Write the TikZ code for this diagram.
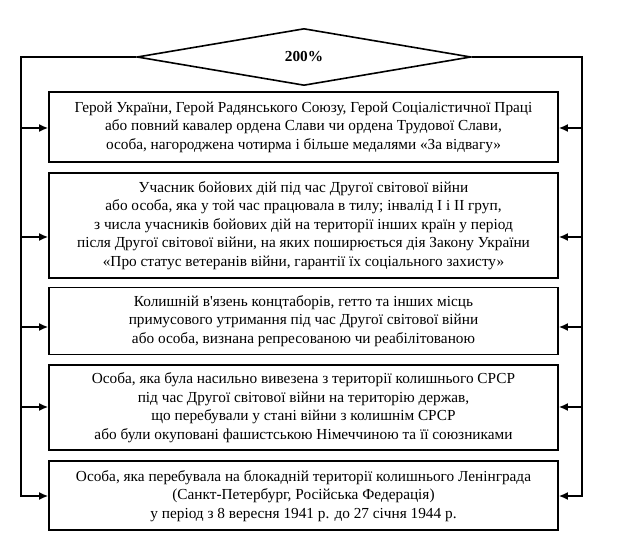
\documentclass[tikz,border=0pt]{standalone}
\usepackage{fontspec}
\setmainfont{Liberation Serif}
\usetikzlibrary{arrows.meta, positioning, shapes.geometric}

\tikzset{
    box/.style={draw, line width=1.8pt, minimum width=509pt, inner sep=0pt,
        align=center, font=\fontsize{15.3pt}{18.5pt}\selectfont},
    choice/.style={draw, diamond, line width=1.6pt, minimum width=334pt,
        minimum height=57pt, aspect=5.86, inner sep=0pt,
        font=\fontsize{15.3pt}{18pt}\selectfont\bfseries},
    link/.style={line width=1.5pt},
    into/.style={link, -{Latex[length=9pt, width=8pt]}},
}

\begin{document}
\begin{tikzpicture}[x=1pt, y=-1pt]
    \useasboundingbox (0,0) rectangle (619,537);

    \node[choice] (c) at (304,57) {200\%};
    % categories
    \node[box, minimum height=70pt] (b1) at (303.5,127)
        {Герой України, Герой Радянського Союзу, Герой Соціалістичної Праці\\
         або повний кавалер ордена Слави чи ордена Трудової Слави,\\
         особа, нагороджена чотирма і більше медалями «За відвагу»};
    \node[box, minimum height=105pt, below=9pt of b1] (b2)
        {Учасник бойових дій під час Другої світової війни\\
         або особа, яка у той час працювала в тилу; інвалід І і ІІ груп,\\
         з числа учасників бойових дій на території інших країн у період\\
         після Другої світової війни, на яких поширюється дія Закону України\\
         «Про статус ветеранів війни, гарантії їх соціального захисту»};
    \node[box, minimum height=67pt, below=8pt of b2] (b3)
        {Колишній в\textquotesingle язень концтаборів, гетто та інших місць\\
         примусового утримання під час Другої світової війни\\
         або особа, визнана репресованою чи реабілітованою};
    \node[box, minimum height=85pt, below=9pt of b3] (b4)
        {Особа, яка була насильно вивезена з території колишнього СРСР\\
         під час Другої світової війни на територію держав,\\
         що перебували у стані війни з колишнім СРСР\\
         або були окуповані фашистською Німеччиною та її союзниками};
    \node[box, minimum height=69pt, below=9pt of b4] (b5)
        {Особа, яка перебувала на блокадній території колишнього Ленінграда\\
         (Санкт-Петербург, Російська Федерація)\\
         у період з 8 вересня 1941 р. до 27 січня 1944 р.};

    % branch points on both sides
    \coordinate (l1) at (21,128);
    \coordinate (l2) at (21,237);
    \coordinate (l3) at (21,327);
    \coordinate (l4) at (21,407);
    \coordinate (l5) at (21,496);
    \coordinate (r1) at (582,128);
    \coordinate (r2) at (582,237);
    \coordinate (r3) at (582,327);
    \coordinate (r4) at (582,407);
    \coordinate (r5) at (582,496);

    \draw[into] (c.west) -| (l5) -- (l5 -| b5.west);
    \draw[into] (c.east) -| (r5) -- (r5 -| b5.east);
    \foreach \i in {1,...,4} {
        \draw[into] (l\i) -- (l\i -| b\i.west);
        \draw[into] (r\i) -- (r\i -| b\i.east);
    }
\end{tikzpicture}
\end{document}
